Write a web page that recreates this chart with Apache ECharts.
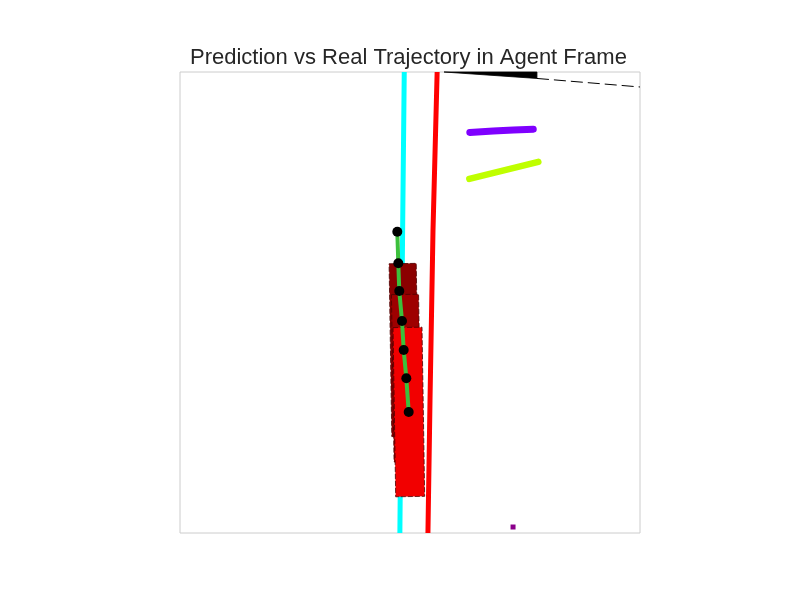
<!DOCTYPE html>
<html><head><meta charset="utf-8">
<script src="https://cdn.jsdelivr.net/npm/echarts@6/dist/echarts.min.js"></script>
<style>html,body{margin:0;padding:0;background:#fff}#c{width:800px;height:600px}</style>
</head><body><div id="c"></div>
<script>
// Lane / boundary lines (agent frame, metres)
const cyanX = [-1.25, -1.6, -1.95, -2.2];
const cyanY = [50, 16, -21, -50];
const redX = [5.9, 5.0, 4.35, 3.9];
const redY = [50, 15.7, -21.2, -50];
// black wedge + thin dashed continuation
const wedgeX = [7.4, 27.6, 27.6];
const wedgeY = [50, 50, 48.6];
const thinX = [27.6, 50];
const thinY = [48.6, 46.75];
// other agents' tracks
const purpleX = [13.0, 18.1, 22.5, 26.8];
const purpleY = [36.9, 37.2, 37.4, 37.6];
const limeX = [12.9, 27.9];
const limeY = [26.8, 30.5];
// agent trajectory
const trajX = [-2.76, -2.54, -2.33, -1.74, -1.37, -0.80, -0.28];
const trajY = [15.36, 8.50, 2.49, -4.01, -10.30, -16.44, -23.75];
// agent boxes
const boxX = [-1.3, -0.8, -0.25];
const boxY = [-10.3, -16.4, -23.75];
const boxLen = [37.5, 36.3, 36.7];
const boxWid = [5.9, 5.9, 6.3];
const boxTilt = [0.9, 0.9, 0.9];
const boxColors = ['#8B0000', '#9E0000', '#F20000'];
// small marker
const markX = [22.4];
const markY = [-48.7];

const zip = (a, b) => a.map((v, i) => [v, b[i]]);

const chart = echarts.init(document.getElementById('c'), null, {renderer: 'canvas'});
chart.setOption({
  animation: false,
  backgroundColor: '#fff',
  title: {
    text: 'Prediction vs Real Trajectory in Agent Frame',
    left: 185, top: 42,
    textStyle: {fontFamily: 'Liberation Sans, Arial, sans-serif', fontSize: 22, fontWeight: 'normal', color: '#262626'}
  },
  grid: {left: 180, top: 72, width: 460, height: 461, show: true, borderColor: '#cccccc', borderWidth: 1, backgroundColor: '#fff'},
  xAxis: {type: 'value', min: -50, max: 50, show: false, splitLine: {show: false}},
  yAxis: {type: 'value', min: -50, max: 50, show: false, splitLine: {show: false}},
  series: [
    {type: 'line', data: zip(cyanX, cyanY), symbol: 'none', clip: true, z: 2,
     lineStyle: {color: '#00FFFF', width: 5, cap: 'butt'}},
    {type: 'line', data: zip(redX, redY), symbol: 'none', clip: true, z: 2,
     lineStyle: {color: '#FF0000', width: 5, cap: 'butt'}},
    {type: 'custom', z: 2, data: [0],
     renderItem: function (params, api) {
       const pts = wedgeX.map((x, i) => api.coord([x, wedgeY[i]]));
       return {type: 'polygon', shape: {points: pts}, style: {fill: '#000', stroke: '#000', lineWidth: 0.8}};
     }},
    {type: 'line', data: zip(thinX, thinY), symbol: 'none', clip: true, z: 2,
     lineStyle: {color: '#000', width: 1, type: [12, 5]}},
    {type: 'line', data: zip(purpleX, purpleY), symbol: 'none', clip: true, z: 2,
     lineStyle: {color: '#7F00FF', width: 7, cap: 'round', join: 'round'}},
    {type: 'line', data: zip(limeX, limeY), symbol: 'none', clip: true, z: 2,
     lineStyle: {color: '#BFFF00', width: 6.5, cap: 'round'}},
    {type: 'custom', z: 3,
     data: boxX.map((x, i) => [x, boxY[i], boxLen[i], boxWid[i], boxTilt[i], i]),
     renderItem: function (params, api) {
       const cx = api.value(0), cy = api.value(1), L = api.value(2), W = api.value(3);
       const t = api.value(4) * Math.PI / 180, i = api.value(5);
       const f = [-Math.sin(t), Math.cos(t)], s = [Math.cos(t), Math.sin(t)];
       const pts = [[1, -1], [1, 1], [-1, 1], [-1, -1]].map(([a, b]) =>
         api.coord([cx + a * L / 2 * f[0] + b * W / 2 * s[0], cy + a * L / 2 * f[1] + b * W / 2 * s[1]]));
       return {type: 'polygon', shape: {points: pts},
               style: {fill: boxColors[i], stroke: '#4a0000', lineWidth: 0.8, lineDash: [5, 2]}};
     }},
    {type: 'line', data: zip(trajX, trajY), symbol: 'none', clip: true, z: 4,
     lineStyle: {color: '#3CC03C', width: 4}},
    {type: 'scatter', data: zip(trajX, trajY), symbol: 'circle', symbolSize: 10, z: 5,
     itemStyle: {color: '#000', opacity: 1}},
    {type: 'scatter', data: zip(markX, markY), symbol: 'rect', symbolSize: 5, z: 5,
     itemStyle: {color: '#8B008B', opacity: 1}}
  ]
});
</script></body></html>
